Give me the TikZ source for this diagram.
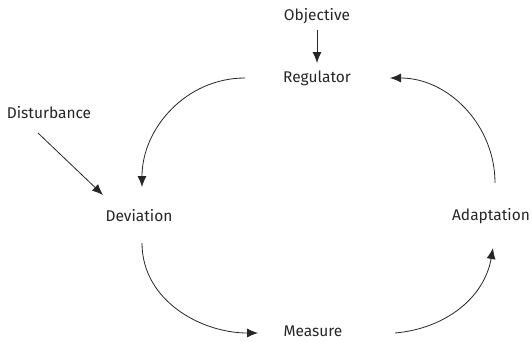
\documentclass[tikz,border=0pt]{standalone}
\usepackage{fontspec}
\setmainfont{Fira Sans}
\usetikzlibrary{arrows.meta,calc}
\definecolor{ink}{HTML}{262626}
\tikzset{
  lbl/.style={inner sep=0pt, anchor=base, text=ink, font=\fontsize{15.5}{18}\selectfont},
  flow/.style={draw=ink, line width=0.8pt, -{Latex[length=11pt,width=9pt]}},
}
\begin{document}
\begin{tikzpicture}[x=1pt,y=1pt]
  \useasboundingbox (0,0) rectangle (532,341);

  % labels of the control loop
  \node[lbl] (obj) at (317,320) {Objective};
  \node[lbl] (reg) at (317,259) {Regulator};
  \node[lbl] (dis) at (49,223)  {Disturbance};
  \node[lbl] (dev) at (139,120) {Deviation};
  \node[lbl] (ada) at (491,121) {Adaptation};
  \node[lbl] (mea) at (313,5)   {Measure};

  % straight inputs
  \draw[flow] ($(obj.base)+(0,-9)$) -- ($(reg.base)+(0,19)$);
  \draw[flow] ($(dis.base)+(-11,-15)$) -- ($(dev.base)+(-36,26)$);

  % the loop
  \draw[flow] ($(reg.base)+(-72,4)$) to[out=180,in=90] ($(dev.base)+(3,34)$);
  \draw[flow] ($(dev.base)+(3,-22)$) to[out=-90,in=180] ($(mea.base)+(-55,3)$);
  \draw[flow] ($(mea.base)+(82,3)$) to[out=5,in=-100] ($(ada.base)+(2,-28)$);
  \draw[flow] ($(ada.base)+(4,37)$) to[out=90,in=0] ($(reg.base)+(73,4)$);
\end{tikzpicture}
\end{document}
